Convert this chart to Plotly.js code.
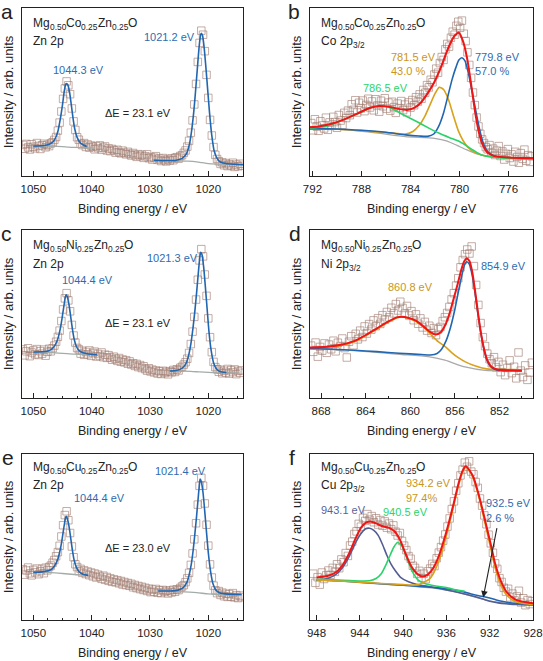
<!DOCTYPE html>
<html>
<head>
<meta charset="utf-8">
<script src="https://cdn.plot.ly/plotly-3.0.1.min.js"></script>
<style>html,body{margin:0;padding:0;background:#fff;}#chart{width:543px;height:661px;}</style>
</head>
<body>
<div id="chart"></div>
<script>
// ---------- Panel a : Mg0.50Co0.25Zn0.25O, Zn 2p ----------
const aStart = 1051.8, aStep = -0.3;
const aCounts = [18.5,16.2,19.1,17.0,15.8,18.9,17.4,16.5,19.6,17.9,16.1,18.3,19.2,17.1,18.6,17.8,19.4,
 20.1,21.5,23.2,27.0,31.8,38.4,45.9,52.1,56.3,54.0,48.7,40.2,32.5,27.4,23.1,21.6,19.2,18.4,19.6,17.3,18.8,16.9,18.1,
 17.4,15.9,17.8,16.6,18.2,15.7,16.9,17.6,15.2,16.4,14.8,16.1,15.3,13.9,15.6,14.2,13.5,15.1,13.8,12.9,
 14.4,13.1,12.2,13.7,12.5,11.4,13.0,11.9,12.6,10.8,11.7,12.9,10.6,11.3,9.8,10.9,11.8,9.6,10.4,8.9,
 10.7,9.5,8.7,10.1,9.2,10.5,9.4,10.8,11.2,10.3,11.9,12.4,13.8,15.2,17.5,20.9,25.8,33.1,42.6,54.8,
 67.9,79.2,86.5,84.1,74.3,60.2,46.5,33.4,24.1,17.2,12.6,10.1,8.8,7.2,8.1,6.4,7.7,5.9,7.0,6.2,7.9,5.4,6.8,5.8,7.3,6.1];
const aBg1E = [1050,1047,1045,1044,1043,1041,1039.5];
const aBg1Y = [17.9,17.8,17.5,17.2,17.0,16.8,16.6];
const aBg2E = [1029.3,1026,1023.5,1022,1021,1020,1018.5,1016,1014];
const aBg2Y = [9.4,9.1,8.8,8.4,7.9,7.4,7.1,6.9,6.8];
const aFit1E = [1050,1048.5,1047.5,1046.8,1046.3,1045.8,1045.4,1045.0,1044.7,1044.45,1044.3,1044.1,1043.8,1043.5,1043.2,1042.9,1042.5,1042.0,1041.5,1040.85];
const aFit1Y = [17.9,18.0,18.6,19.8,22.0,26.5,33.5,42.5,50.5,54.6,55.0,54.2,50.0,42.5,34.5,28.0,23.0,20.0,18.6,17.6];
const aFit2E = [1029.3,1027,1025.5,1024.5,1023.8,1023.3,1022.9,1022.5,1022.2,1021.9,1021.6,1021.35,1021.2,1021.0,1020.7,1020.4,1020.1,1019.8,1019.4,1019.0,1018.5,1018,1017,1015.5,1014];
const aFit2Y = [9.4,9.2,9.4,10.5,13.0,18.0,26.0,38.0,50.0,63.0,76.0,83.5,85.0,83.8,76.0,64.0,51.0,38.0,24.0,15.0,10.5,8.5,7.4,7.0,6.8];

// ---------- Panel b : Mg0.50Co0.25Zn0.25O, Co 2p3/2 ----------
const bStart = 792.1, bStep = -0.15;
const bCounts = [31.5,27.2,33.8,29.4,26.9,32.6,30.1,28.3,34.7,27.5,31.9,
 29.8,35.2,32.1,28.7,36.3,33.0,30.4,37.6,34.5,38.9,36.2,42.7,39.4,45.1,37.8,43.6,40.2,44.9,38.6,42.3,
 46.0,40.8,44.4,39.1,45.7,42.0,38.3,44.8,41.5,46.3,40.1,43.7,38.9,44.2,41.0,37.6,43.1,40.4,44.6,39.2,
 42.5,37.9,43.8,40.7,45.2,42.1,46.9,44.3,48.6,46.0,51.2,49.5,54.1,52.7,57.3,55.8,60.4,63.9,61.5,67.2,
 70.8,69.1,75.4,78.6,77.0,82.3,85.9,84.1,89.4,91.8,88.2,92.5,84.7,80.3,73.6,66.1,58.4,49.7,42.2,34.8,
 29.5,25.1,21.8,19.6,17.2,15.9,18.4,13.7,16.3,12.5,15.1,17.8,11.9,14.6,9.8,13.2,16.0,10.7,12.9,8.6,
 14.4,11.3,7.9,13.6,10.2,15.7,9.1,12.4,8.4,11.7];
const bBgE = [792.2,789.8,787,784.4,782.05,781,780.2,779.4,778.5,777.5,776.5,775,774];
const bBgY = [27.7,27.7,25.8,23.4,22.4,20.8,18.2,15.5,13.0,11.7,11.2,10.7,10.5];
const bBlueE = [792.2,790,788,786,784.4,783.3,782.6,782.1,781.7,781.3,780.9,780.6,780.3,780.05,779.8,779.55,779.3,779.0,778.7,778.4,778.1,777.7,777.2,776.5,775,774];
const bBlueY = [28.2,28.0,27.2,26.0,24.5,23.8,23.6,25.0,29.5,37.5,49.0,57.5,64.5,69.0,70.4,68.5,62.0,51.5,40.0,29.0,20.5,14.5,12.0,11.2,10.8,10.6];
const bYelE = [792.2,790,788,786,785,784.4,783.8,783.3,782.8,782.4,782.0,781.65,781.3,780.9,780.5,780.1,779.7,779.3,778.8,778.2,777.5,776,774];
const bYelY = [28.0,27.8,27.0,25.8,25.2,25.0,26.5,30.0,36.0,42.5,49.0,52.8,51.5,45.5,36.0,27.0,21.0,17.0,14.2,12.5,11.5,11.0,10.7];
const bGreenE = [792.2,791,790.3,789.3,788.3,787.3,786.5,785.7,784.8,783.5,782.5,781.65,780.8,780,778.9,778.2,777,776.2,774];
const bGreenY = [28.4,29.5,31.0,34.0,37.0,40.5,41.7,40.8,37.3,32.4,28.5,25.4,22.8,20.5,15.5,12.5,11.0,10.5,10.1];
const bRedE = [792.2,791.5,790.3,789.3,788.3,787.4,786.6,785.8,785.0,784.3,783.7,783.2,782.6,782.05,781.5,780.9,780.4,780.05,779.7,779.35,779.0,778.7,778.4,778.1,777.7,777.2,776,774];
const bRedY = [29.0,29.5,31.4,34.0,37.3,40.3,41.7,41.3,40.0,39.3,40.5,43.3,49.2,56.0,65.0,76.5,83.5,85.3,80.0,69.0,52.0,37.0,25.5,18.5,13.8,12.0,11.0,10.6];

// ---------- Panel c : Mg0.50Ni0.25Zn0.25O, Zn 2p ----------
const cStart = 1051.8, cStep = -0.3;
const cCounts = [28.9,25.4,27.8,29.6,24.9,27.1,28.3,26.0,29.1,25.6,27.9,26.4,28.8,25.2,27.5,29.3,27.8,
 29.6,31.2,33.5,36.4,40.1,45.8,52.7,59.3,62.4,58.1,51.6,43.5,37.2,33.0,29.8,28.9,26.4,28.1,25.7,27.4,26.0,28.3,25.1,
 26.8,27.6,24.7,26.2,25.0,27.1,24.3,25.8,23.9,25.5,24.1,22.8,24.6,23.3,22.1,23.8,21.6,22.9,21.2,22.5,
 20.4,21.8,19.9,20.7,19.1,20.3,18.4,19.6,17.8,18.9,17.2,16.3,17.7,15.8,16.9,15.2,16.4,14.6,15.9,14.3,
 16.2,14.9,15.6,14.1,16.0,15.3,16.7,15.5,17.1,16.4,18.0,18.6,19.9,21.3,23.4,26.8,32.1,39.5,48.3,58.6,
 70.4,81.9,88.6,84.3,73.5,60.8,47.4,36.2,27.3,21.5,18.4,17.1,15.6,16.8,14.7,16.2,15.1,17.3,14.5,16.6,15.4,17.0,14.2,16.1,15.0,16.4];
const cBg1E = [1050,1047,1045,1043,1041,1039.1];
const cBg1Y = [27.2,27.0,26.6,26.1,25.9,25.7];
const cBg2E = [1026.6,1023,1021.5,1020,1018.5,1016.9,1014.6];
const cBg2Y = [16.1,15.9,15.5,15.2,15.0,14.9,14.8];
const cFit1E = [1050,1048.5,1047.5,1046.8,1046.3,1045.8,1045.4,1045.1,1044.8,1044.55,1044.4,1044.2,1043.9,1043.6,1043.3,1043.0,1042.6,1042.1,1041.5,1040.5,1039.1];
const cFit1Y = [27.4,27.5,28.0,29.3,31.3,35.3,41.0,47.0,54.0,59.5,61.5,60.5,55.8,48.5,41.0,35.0,30.5,28.0,26.9,26.2,25.8];
const cFit2E = [1026.6,1025.5,1024.6,1023.9,1023.4,1023.0,1022.6,1022.3,1022.0,1021.7,1021.45,1021.3,1021.1,1020.8,1020.5,1020.2,1019.9,1019.5,1019.1,1018.6,1018,1016.9];
const cFit2Y = [16.1,16.4,17.5,20.0,25.0,32.0,42.5,52.0,63.0,75.0,84.0,86.7,85.5,78.0,66.0,53.0,40.0,28.0,21.0,17.3,15.8,15.1];

// ---------- Panel d : Mg0.50Ni0.25Zn0.25O, Ni 2p3/2 ----------
const dStart = 868.9, dStep = -0.2;
const dCounts = [31.2,27.5,33.0,24.6,30.4,28.2,32.5,26.9,31.8,29.0,34.1,27.8,32.9,30.6,35.4,29.7,24.1,33.5,36.8,31.4,
 38.2,34.9,40.1,36.3,42.6,38.4,44.0,40.7,46.2,42.8,47.5,44.1,49.3,46.6,51.2,48.0,53.7,50.4,55.9,52.1,
 57.3,53.6,50.2,54.8,49.1,51.7,46.3,49.8,44.2,47.4,42.0,45.3,40.1,43.0,38.7,41.6,37.4,40.9,42.3,45.8,
 48.1,50.6,54.2,58.7,62.4,66.9,71.3,77.8,82.1,85.6,88.4,86.0,90.2,78.5,67.3,55.4,44.6,36.2,30.9,26.4,
 23.1,20.7,24.3,18.2,21.5,15.4,19.8,13.6,17.9,22.4,14.8,18.6,11.7,27.1,16.3,12.5,19.4,10.8,15.2,21.0];
const dBgE = [869,866,863,861,858.4,856.9,855.1,853.3,851,850];
const dBgY = [29.4,28.6,27.2,26.0,24.6,22.5,18.5,16.5,16.1,16.0];
const dBlueE = [869,867,865,863,861,859,858.2,857.6,857.2,856.8,856.4,856.0,855.7,855.4,855.15,854.95,854.7,854.45,854.2,853.95,853.7,853.4,853.1,852.7,852.2,851,850];
const dBlueY = [29.5,29.0,28.4,27.6,26.6,25.9,25.6,26.5,29.0,34.0,42.0,53.0,63.0,72.5,79.0,81.1,79.5,73.0,62.5,50.5,39.5,29.0,22.0,18.0,16.5,16.2,16.1];
const dOrE = [869,867.5,866,865,864,863,862,861.2,860.8,860.2,859.5,858.8,858.2,857.5,856.85,856.3,855.7,855.07,854.35,853.3,852.5,851,850];
const dOrY = [29.8,30.2,31.6,33.6,37.0,41.0,45.0,47.8,48.3,47.5,45.5,42.0,38.0,33.5,30.5,27.0,24.0,21.5,19.5,17.5,17.0,16.9,16.8];
const dRedE = [869,867.5,866,865,864,863,862,861.2,860.8,860.2,859.5,858.8,858.2,857.7,857.3,856.9,856.5,856.1,855.75,855.4,855.15,854.95,854.7,854.45,854.2,853.95,853.7,853.4,853.1,852.7,852.2,851,850];
const dRedY = [30.0,30.5,32.0,34.0,37.5,41.5,45.5,48.0,48.4,47.8,46.0,42.5,39.2,37.8,39.0,43.0,50.0,59.5,68.0,77.0,81.5,83.1,81.5,75.0,64.0,51.5,40.0,29.5,22.5,18.5,17.0,16.5,16.4];

// ---------- Panel e : Mg0.50Cu0.25Zn0.25O, Zn 2p ----------
const eStart = 1051.8, eStep = -0.3;
const eCounts = [30.5,27.3,29.8,31.6,28.1,26.9,30.2,28.7,31.0,27.6,29.4,30.8,28.2,31.5,29.9,31.9,32.8,
 34.5,36.1,38.4,40.9,44.7,50.3,57.1,63.2,65.5,60.1,52.4,44.3,37.8,33.6,31.9,29.5,30.8,28.4,29.9,27.7,29.2,27.0,28.6,
 26.3,28.0,25.6,27.3,26.1,24.8,26.7,24.2,25.9,23.6,25.1,23.0,24.5,22.7,24.0,22.1,23.5,21.4,22.9,21.0,
 22.3,20.6,21.8,19.7,21.1,19.2,20.5,18.6,20.0,18.1,19.4,17.5,18.9,16.8,18.3,17.0,18.7,16.4,17.9,16.2,
 18.1,16.9,17.6,16.0,17.8,16.6,18.2,17.0,18.5,18.0,19.3,20.2,21.0,22.8,25.1,28.4,33.2,40.1,48.6,58.3,
 69.5,80.8,85.6,80.9,70.2,57.4,44.8,33.5,25.6,20.7,17.9,16.2,17.4,15.1,16.5,14.3,15.8,13.9,15.6,14.0,16.2,13.6,15.0,13.2,14.7,13.8];
const eBg1E = [1050,1047,1045,1043,1041.5,1040.6];
const eBg1Y = [28.8,28.5,28.0,27.4,27.0,26.8];
const eBg2E = [1028.6,1025,1022,1020,1017,1014.3];
const eBg2Y = [17.5,17.1,16.5,15.7,15.2,15.1];
const eFit1E = [1050,1048.5,1047.5,1046.8,1046.3,1045.8,1045.4,1045.1,1044.8,1044.55,1044.4,1044.2,1043.9,1043.6,1043.3,1043.0,1042.6,1042.1,1041.5,1040.6];
const eFit1Y = [28.8,29.0,29.6,30.8,33.0,36.8,42.3,48.0,55.0,60.5,62.4,61.4,56.7,49.5,42.0,36.0,31.5,28.9,27.6,26.9];
const eFit2E = [1028.6,1026.5,1025.2,1024.3,1023.7,1023.3,1022.9,1022.6,1022.3,1022.0,1021.7,1021.5,1021.4,1021.2,1020.9,1020.6,1020.3,1020.0,1019.6,1019.2,1018.7,1018,1016.5,1014.3];
const eFit2Y = [17.5,17.5,18.0,19.5,22.5,27.0,34.0,42.0,52.0,63.0,75.0,82.5,84.9,83.5,76.5,65.0,52.5,40.5,29.0,21.8,18.0,16.3,15.6,15.4];

// ---------- Panel f : Mg0.50Cu0.25Zn0.25O, Cu 2p3/2 ----------
const fStart = 948.3, fStep = -0.2;
const fCounts = [27.9,22.4,25.8,21.3,28.6,24.7,26.9,29.8,27.2,31.4,29.0,33.6,31.2,36.5,34.8,40.3,38.6,44.9,47.2,51.8,
 53.4,57.9,56.2,61.5,59.7,63.8,60.4,62.6,58.9,61.3,57.5,60.2,56.8,59.4,55.6,58.1,54.7,57.0,53.2,50.9,
 52.4,47.6,44.8,42.1,38.5,36.9,32.7,31.4,27.8,29.6,25.3,27.9,24.6,29.3,31.0,33.8,32.5,37.2,40.6,43.9,
 47.8,51.5,56.3,61.2,66.8,71.5,77.9,82.4,87.1,90.6,94.8,92.3,95.6,89.4,87.8,83.1,79.6,73.2,68.9,63.0,
 57.7,51.4,46.2,40.5,34.1,30.8,25.2,22.9,19.4,17.1,18.8,13.6,15.9,11.8,14.2,17.6,10.5,13.1,8.9,12.0,9.6,11.3];
const fBgE = [948.0,946,944,942,940,938,937,936,935,934,933,932,931,930,929,928];
const fBgY = [24.0,23.5,22.6,21.6,20.8,19.7,19.0,18.0,16.8,15.0,13.2,11.5,10.4,9.7,9.3,9.1];
const fBlueE = [948.0,946,944,942,940,939,938,937,936,935,934.3,933.6,933.0,932.5,932.0,931.5,931.0,930.3,929.5,928.0];
const fBlueY = [24.1,23.6,22.8,21.8,21.0,20.5,20.0,19.5,18.8,17.8,16.8,15.5,14.6,14.0,13.2,12.3,11.4,10.5,10.0,9.7];
const fSlateE = [948.0,947.0,946.2,945.6,945.0,944.4,943.9,943.5,943.1,942.7,942.3,941.9,941.5,941.1,940.7,940.2,939.5,938.8,938.2,937.5,936.5,935.5,934.5,933.5,932.7,932.0,931.2,930.5,929.5,928.0];
const fSlateY = [24.1,25.0,27.5,31.5,38.0,46.5,52.0,54.8,55.3,54.0,51.0,45.5,39.0,33.5,29.5,25.5,23.0,21.5,20.8,20.0,18.8,17.5,16.0,14.3,12.8,11.3,10.3,9.8,9.3,9.1];
const fGreenE = [948.0,946,944,943,942.5,942.0,941.6,941.2,940.85,940.5,940.15,939.8,939.4,939.0,938.6,938.0,937.0,936.0,935.0,934.3];
const fGreenY = [24.5,24.0,23.5,23.8,25.0,28.0,33.0,39.0,44.0,46.7,45.0,40.0,33.0,27.5,24.0,22.0,20.5,19.5,18.0,17.3];
const fYelE = [948.0,946,944,942,940,939,938.5,938.0,937.6,937.2,936.7,936.3,935.8,935.3,934.9,934.5,934.2,933.9,933.5,933.1,932.7,932.3,931.9,931.5,931.0,930.5,930.0,929.5,928.5,928.0];
const fYelY = [24.1,23.5,22.8,22.0,21.3,21.0,21.5,23.0,24.5,28.0,35.5,43.5,56.0,69.5,80.5,89.0,92.2,90.0,85.0,76.5,66.0,54.5,43.0,31.5,21.5,15.5,12.5,10.8,9.7,9.5];
const fRedE = [948.0,947.0,946.2,945.6,945.0,944.4,943.9,943.4,943.0,942.5,941.9,941.3,940.8,940.3,939.8,939.3,938.8,938.2,937.7,937.2,936.7,936.3,935.8,935.3,934.85,934.5,934.2,933.9,933.5,933.1,932.7,932.3,931.9,931.5,931.0,930.5,930.0,929.5,928.5,928.0];
const fRedY = [25.6,26.5,28.8,33.0,40.0,49.0,55.5,58.8,59.4,58.2,56.5,55.5,53.5,48.5,40.5,33.0,28.5,26.2,27.5,31.5,38.5,46.5,58.0,71.0,83.0,90.0,92.6,90.5,86.0,77.5,67.5,56.5,45.5,34.0,24.0,17.5,14.0,12.0,10.5,10.1];

// ---------- text content (main part / subscript part) ----------
const fmCo = [['Mg',0],['0.50',1],['Co',0],['0.25',1],['Zn',0],['0.25',1],['O',0]];
const fmNi = [['Mg',0],['0.50',1],['Ni',0],['0.25',1],['Zn',0],['0.25',1],['O',0]];
const fmCu = [['Mg',0],['0.50',1],['Cu',0],['0.25',1],['Zn',0],['0.25',1],['O',0]];
const lvCo = [['Co 2p',0],['3/2',1]];
const lvNi = [['Ni 2p',0],['3/2',1]];
const lvCu = [['Cu 2p',0],['3/2',1]];

// ---------- styling ----------
const FONT = 'Arial, "Liberation Sans", Helvetica, sans-serif';
const INK = '#222222';
const C_SQ = 'rgba(160,122,112,0.62)';
const C_BLUE = '#2166b0', C_RED = '#f01414', C_GOLD = '#d9a11c', C_GREEN = '#2ad36a', C_SLATE = '#535d92';
const C_GRAY1 = '#a3aca8', C_GRAY2 = '#a9a9a9';
const T_BLUE = '#2e6cb0', T_GOLD = '#c9961a', T_GREEN = '#2bd46c', T_SLATE = '#59639a';

function sq(ax, start, step, ys) {
  return {type:'scatter', mode:'markers', x0:start, dx:step, y:ys, xaxis:'x'+ax, yaxis:'y'+ax,
    marker:{symbol:'square-open', size:7.5, color:C_SQ, line:{width:1}}, hoverinfo:'skip'};
}
function ln(ax, xs, ys, color, width) {
  return {type:'scatter', mode:'lines', x:xs, y:ys, xaxis:'x'+ax, yaxis:'y'+ax,
    line:{color:color, width:width, shape:'spline', smoothing:0.6}, hoverinfo:'skip'};
}

const traces = [
  sq('', aStart, aStep, aCounts),
  ln('', aBg1E, aBg1Y, C_GRAY1, 1.3), ln('', aBg2E, aBg2Y, C_GRAY1, 1.3),
  ln('', aFit1E, aFit1Y, C_BLUE, 1.6), ln('', aFit2E, aFit2Y, C_BLUE, 1.6),

  sq('2', bStart, bStep, bCounts),
  ln('2', bBgE, bBgY, C_GRAY2, 1.3), ln('2', bYelE, bYelY, C_GOLD, 1.6), ln('2', bBlueE, bBlueY, C_BLUE, 1.6),
  ln('2', bGreenE, bGreenY, C_GREEN, 1.6), ln('2', bRedE, bRedY, C_RED, 2),

  sq('3', cStart, cStep, cCounts),
  ln('3', cBg1E, cBg1Y, C_GRAY1, 1.3), ln('3', cBg2E, cBg2Y, C_GRAY1, 1.3),
  ln('3', cFit1E, cFit1Y, C_BLUE, 1.6), ln('3', cFit2E, cFit2Y, C_BLUE, 1.6),

  sq('4', dStart, dStep, dCounts),
  ln('4', dBgE, dBgY, C_GRAY2, 1.3), ln('4', dOrE, dOrY, C_GOLD, 1.6), ln('4', dBlueE, dBlueY, C_BLUE, 1.6),
  ln('4', dRedE, dRedY, C_RED, 2),

  sq('5', eStart, eStep, eCounts),
  ln('5', eBg1E, eBg1Y, C_GRAY1, 1.3), ln('5', eBg2E, eBg2Y, C_GRAY1, 1.3),
  ln('5', eFit1E, eFit1Y, C_BLUE, 1.6), ln('5', eFit2E, eFit2Y, C_BLUE, 1.6),

  sq('6', fStart, fStep, fCounts),
  ln('6', fBgE, fBgY, C_GRAY2, 1.3), ln('6', fSlateE, fSlateY, C_SLATE, 1.6), ln('6', fBlueE, fBlueY, C_BLUE, 1.6),
  ln('6', fGreenE, fGreenY, C_GREEN, 1.6), ln('6', fYelE, fYelY, C_GOLD, 1.6), ln('6', fRedE, fRedY, C_RED, 2)
];

// page geometry (pixels -> paper)
const W = 543, H = 661;
const px = v => v / W, py = v => 1 - v / H;
const colL = [px(21.7), px(243.3)], colR = [px(310), px(533)];
const row1 = [py(176), py(8)], row2 = [py(398), py(230)], row3 = [py(620), py(454)];

function xax(dom, anchor, range, tick0, dtick, mdt) {
  return {domain:dom, anchor:anchor, range:range, tick0:tick0, dtick:dtick,
    ticks:'inside', ticklen:5, tickwidth:1, tickcolor:INK, ticklabelstandoff:2,
    minor:{tick0:tick0, dtick:mdt, ticks:'inside', ticklen:2.5, tickwidth:1, tickcolor:INK},
    showline:true, linecolor:INK, linewidth:1, mirror:true, showgrid:false, zeroline:false,
    tickfont:{family:FONT, size:11.5, color:INK},
    title:{text:'Binding energy / eV', font:{family:FONT, size:12.5, color:INK}, standoff:10}};
}
function yax(dom, anchor) {
  return {domain:dom, anchor:anchor, range:[0,100], showticklabels:false, ticks:'',
    showline:true, linecolor:INK, linewidth:1, mirror:true, showgrid:false, zeroline:false,
    title:{text:'Intensity / arb. units', font:{family:FONT, size:13, color:INK}, standoff:4}};
}

function txt(t, x, y, color, size) {
  return {text:t, x:px(x), y:py(y), xref:'paper', yref:'paper', xanchor:'left', yanchor:'middle',
    showarrow:false, font:{family:FONT, size:size, color:color}};
}
// Arial advance widths (em) for laying out main text + lowered small subscripts side by side
const ADV = {M:.833,g:.556,C:.722,o:.556,Z:.611,n:.556,N:.722,i:.222,u:.556,O:.778,p:.556,'.':.278,'/':.278,' ':.278};
function advance(s, size) { let w = 0; for (const ch of s) w += (ADV[ch] !== undefined ? ADV[ch] : .556) * size; return w; }
const MG = 12, SUB = 8.4;
function chem(segs, x, base) {
  const out = []; let cx = x;
  for (const [t, isSub] of segs) {
    const s = isSub ? SUB : MG;
    const cy = isSub ? (base + 2.5 - 0.3465 * s) : (base - 0.3465 * s);
    out.push(txt(t, cx, cy, INK, s));
    cx += advance(t, s);
  }
  return out;
}

const PK = 11, LET = 21;
const annotations = [
  txt('a', -1, 12, INK, LET), txt('b', 286, 12, INK, LET), txt('c', -1, 233, INK, LET),
  txt('d', 287, 233, INK, LET), txt('e', 0, 457, INK, LET), txt('f', 287, 457, INK, LET),

  ...chem(fmCo, 31, 27), txt('Zn 2p', 31, 45.5 - 0.3465 * MG, INK, MG),
  txt('1021.2 eV', 142, 37, T_BLUE, PK),
  txt('1044.3 eV', 51, 70, T_BLUE, PK),
  txt('ΔE = 23.1 eV', 103, 113, INK, PK),

  ...chem(fmCo, 319, 27), ...chem(lvCo, 319, 45.5),
  txt('781.5 eV', 389, 57, T_GOLD, PK), txt('43.0 %', 389, 71, T_GOLD, PK),
  txt('779.8 eV', 473, 57, T_BLUE, PK), txt('57.0 %', 473, 71, T_BLUE, PK),
  txt('786.5 eV', 361, 88, T_GREEN, PK),

  ...chem(fmNi, 31, 249), txt('Zn 2p', 31, 268 - 0.3465 * MG, INK, MG),
  txt('1021.3 eV', 145, 258, T_BLUE, PK),
  txt('1044.4 eV', 60, 280, T_BLUE, PK),
  txt('ΔE = 23.1 eV', 103, 323, INK, PK),

  ...chem(fmNi, 319, 249), ...chem(lvNi, 319, 268),
  txt('860.8 eV', 386, 287, T_GOLD, PK),
  txt('854.9 eV', 479, 266, T_BLUE, PK),

  ...chem(fmCu, 31, 471), txt('Zn 2p', 31, 489.5 - 0.3465 * MG, INK, MG),
  txt('1021.4 eV', 153, 471, T_BLUE, PK),
  txt('1044.4 eV', 72, 498, T_BLUE, PK),
  txt('ΔE = 23.0 eV', 103, 548, INK, PK),

  ...chem(fmCu, 319, 471), ...chem(lvCu, 319, 489.5),
  txt('934.2 eV', 404, 483, T_GOLD, PK), txt('97.4%', 404, 498, T_GOLD, PK),
  txt('943.1 eV', 319, 510, T_SLATE, PK),
  txt('940.5 eV', 381, 512, T_GREEN, PK),
  txt('932.5 eV', 484, 503, T_BLUE, PK), txt('2.6 %', 484, 518, T_BLUE, PK),

  {x:932.6, y:13.5, xref:'x6', yref:'y6', text:'', showarrow:true, arrowhead:2, arrowsize:1.2,
   arrowwidth:1.1, arrowcolor:INK, ax:14, ay:-71, standoff:0}
];

const layout = {
  width:W, height:H, margin:{l:0, r:0, t:0, b:0}, paper_bgcolor:'#ffffff', plot_bgcolor:'#ffffff',
  showlegend:false, font:{family:FONT, color:INK},
  xaxis: xax(colL, 'y', [1052, 1014], 1020, 10, 2.5),
  yaxis: yax(row1, 'x'),
  xaxis2: xax(colR, 'y2', [792.2, 774], 776, 4, 2),
  yaxis2: yax(row1, 'x2'),
  xaxis3: xax(colL, 'y3', [1052, 1014], 1020, 10, 2.5),
  yaxis3: yax(row2, 'x3'),
  xaxis4: xax(colR, 'y4', [869, 849], 852, 4, 2),
  yaxis4: yax(row2, 'x4'),
  xaxis5: xax(colL, 'y5', [1052, 1014], 1020, 10, 2.5),
  yaxis5: yax(row3, 'x5'),
  xaxis6: xax(colR, 'y6', [948.6, 928], 928, 4, 2),
  yaxis6: yax(row3, 'x6'),
  annotations: annotations
};

Plotly.newPlot('chart', traces, layout, {staticPlot:true, displayModeBar:false});
</script>
</body>
</html>
